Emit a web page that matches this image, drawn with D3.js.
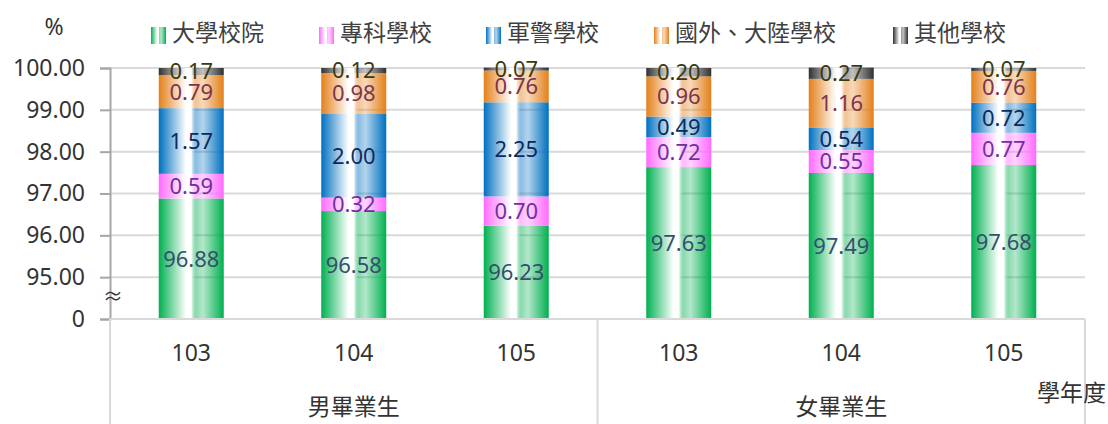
<!DOCTYPE html>
<html>
<head>
<meta charset="utf-8">
<script src="https://cdn.jsdelivr.net/npm/d3@7"></script>
<style>
  body { margin: 0; background: #fff; }
  text { font-family: 'Noto Sans', 'Noto Sans CJK TC', sans-serif; }
</style>
</head>
<body>
<div id="chart"></div>
<script>
// categories
const years = ['103', '104', '105', '103', '104', '105']
const genders = ['男畢業生', '女畢業生']
const seriesNames = ['大學校院', '專科學校', '軍警學校', '國外、大陸學校', '其他學校']

// percentages per school type (male 103-105, female 103-105)
const university = [96.88, 96.58, 96.23, 97.63, 97.49, 97.68]
const juniorCollege = [0.59, 0.32, 0.7, 0.72, 0.55, 0.77]
const military = [1.57, 2.0, 2.25, 0.49, 0.54, 0.72]
const abroad = [0.79, 0.98, 0.76, 0.96, 1.16, 0.76]
const other = [0.17, 0.12, 0.07, 0.2, 0.27, 0.07]

// broken axis: the bottom tick (94) is shown as 0
const yTicks = [94, 95, 96, 97, 98, 99, 100]
const yTickLabels = ['0', '95.00', '96.00', '97.00', '98.00', '99.00', '100.00']

const colors = ['#00b050', '#ff6bff', '#0070c0', '#e4801a', '#303030']
const labelColors = ['#34506c', '#7030a0', '#0e2a5c', '#7d3450', '#3a3a12']

const width = 1108
const height = 424

const svg = d3
  .select('#chart')
  .append('svg')
  .attr('width', width)
  .attr('height', height)

const x = d3
  .scaleBand()
  .domain(d3.range(years.length))
  .range([110, 1085])
  .paddingInner(0.6)
  .paddingOuter(0.3)

const y = d3
  .scaleLinear()
  .domain([94, 100])
  .range([319, 68])

// gradients: colour at edges, white stripe near the middle
const defs = svg.append('defs')
colors.forEach((c, i) => {
  const g = defs
    .append('linearGradient')
    .attr('id', 'grad' + i)
    .attr('x1', '0%')
    .attr('x2', '100%')
    .attr('y1', '0%')
    .attr('y2', '0%')
  const stops = [
    [0, c, 1],
    [0.42, '#ffffff', 1],
    [0.5, '#ffffff', 1],
    [0.58, c, 0.45],
    [0.68, c, 0.3],
    [1, c, 1]
  ]
  stops.forEach(s => {
    g.append('stop')
      .attr('offset', s[0])
      .attr('stop-color', s[1])
      .attr('stop-opacity', s[2])
  })
})

// gridlines
svg
  .append('g')
  .selectAll('line')
  .data(yTicks.slice(1))
  .enter()
  .append('line')
  .attr('x1', 110)
  .attr('x2', 1085)
  .attr('y1', d => y(d))
  .attr('y2', d => y(d))
  .attr('stroke', '#d9d9d9')
  .attr('stroke-width', 2)

// y axis
const yAxis = svg
  .append('g')
  .attr('transform', 'translate(110,0)')
  .call(
    d3
      .axisLeft(y)
      .tickValues(yTicks)
      .tickFormat((d, i) => yTickLabels[i])
      .tickSize(10)
      .tickPadding(15)
  )
yAxis.select('.domain').attr('stroke', '#a6a6a6').attr('stroke-width', 2)
yAxis.selectAll('.tick line').attr('stroke', '#a6a6a6').attr('stroke-width', 2)
yAxis
  .selectAll('.tick text')
  .attr('font-size', 23)
  .attr('fill', '#333')
  .attr('font-family', "'Noto Sans', sans-serif")

// axis break mark
svg
  .append('text')
  .text('≈')
  .attr('x', 113)
  .attr('y', 299)
  .attr('text-anchor', 'middle')
  .attr('dominant-baseline', 'middle')
  .attr('font-size', 20)
  .attr('fill', '#333')

// stacks
const rows = years.map((yr, i) => ({
  i: i,
  values: [university[i], juniorCollege[i], military[i], abroad[i], other[i]]
}))

const segments = []
rows.forEach(r => {
  let base = 94
  r.values.forEach((v, k) => {
    const top = k === 0 ? v : base + v
    segments.push({ i: r.i, k: k, v: v, y0: base, y1: top })
    base = top
  })
})

svg
  .append('g')
  .selectAll('rect')
  .data(segments)
  .enter()
  .append('rect')
  .attr('x', d => x(d.i))
  .attr('width', x.bandwidth())
  .attr('y', d => y(d.y1))
  .attr('height', d => y(d.y0) - y(d.y1) + (d.k === 0 ? 1 : 0))
  .attr('fill', d => `url(#grad${d.k})`)

svg
  .append('g')
  .selectAll('text')
  .data(segments)
  .enter()
  .append('text')
  .text(d => d.v.toFixed(2))
  .attr('x', d => x(d.i) + x.bandwidth() / 2)
  .attr('y', d => (y(d.y0) + y(d.y1)) / 2 + 2)
  .attr('text-anchor', 'middle')
  .attr('dominant-baseline', 'middle')
  .attr('font-size', 22)
  .attr('fill', d => labelColors[d.k])

// category axis box
const box = svg.append('g').attr('stroke', '#d9d9d9').attr('stroke-width', 2)
box.append('line').attr('x1', 110).attr('x2', 1085).attr('y1', 319).attr('y2', 319)
box
  .selectAll('.sep')
  .data([0, 3, 6])
  .enter()
  .append('line')
  .attr('x1', d => (d === 6 ? 1085 : d === 0 ? 110 : x(d) - x.step() * x.paddingInner() / 2))
  .attr('x2', d => (d === 6 ? 1085 : d === 0 ? 110 : x(d) - x.step() * x.paddingInner() / 2))
  .attr('y1', 319)
  .attr('y2', height)

svg
  .append('g')
  .selectAll('text')
  .data(years)
  .enter()
  .append('text')
  .text(d => d)
  .attr('x', (d, i) => x(i) + x.bandwidth() / 2)
  .attr('y', 355)
  .attr('text-anchor', 'middle')
  .attr('dominant-baseline', 'middle')
  .attr('font-size', 23)
  .attr('fill', '#333')

svg
  .append('g')
  .selectAll('text')
  .data(genders)
  .enter()
  .append('text')
  .text(d => d)
  .attr('x', (d, i) => x(i * 3 + 1) + x.bandwidth() / 2)
  .attr('y', 409)
  .attr('text-anchor', 'middle')
  .attr('dominant-baseline', 'middle')
  .attr('font-size', 23)
  .attr('fill', '#333')

svg
  .append('text')
  .text('學年度')
  .attr('x', 1106)
  .attr('y', 395)
  .attr('text-anchor', 'end')
  .attr('dominant-baseline', 'middle')
  .attr('font-size', 23)
  .attr('fill', '#333')

svg
  .append('text')
  .text('%')
  .attr('x', 54)
  .attr('y', 29)
  .attr('text-anchor', 'middle')
  .attr('dominant-baseline', 'middle')
  .attr('font-size', 23)
  .attr('fill', '#333')

// legend
const legendX = [151, 319, 486, 654, 893]
const legend = svg.append('g')
legend
  .selectAll('g')
  .data(seriesNames)
  .enter()
  .append('g')
  .attr('transform', (d, i) => `translate(${legendX[i]},35)`)
  .each(function(d, i) {
    const group = d3.select(this)
    group
      .append('rect')
      .attr('x', 0)
      .attr('y', -8)
      .attr('width', 15)
      .attr('height', 17)
      .attr('fill', `url(#grad${i})`)
    group
      .append('text')
      .text(d)
      .attr('x', 21)
      .attr('dominant-baseline', 'middle')
      .attr('font-size', 23)
      .attr('fill', '#404040')
  })
</script>
</body>
</html>
